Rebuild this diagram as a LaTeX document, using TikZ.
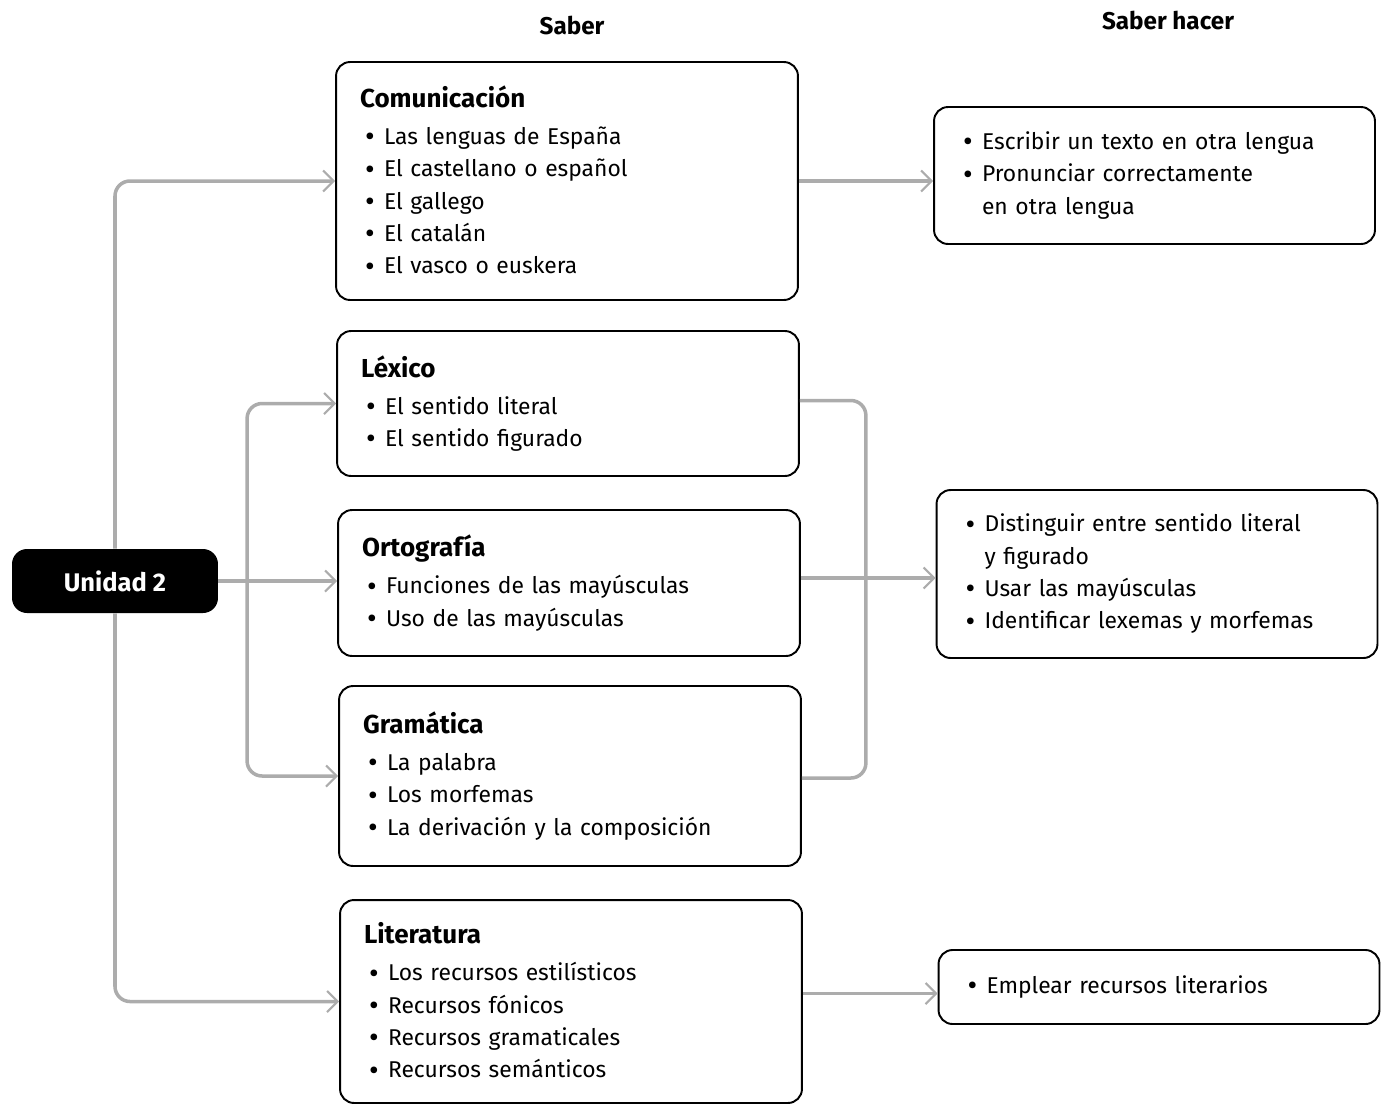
\documentclass[tikz,border=0pt]{standalone}
\usepackage{fontspec}
\setmainfont{Fira Sans}
\usetikzlibrary{arrows.meta}
\newcommand{\itm}{\hspace*{0.1cm}\makebox[0.38cm][l]{\raisebox{-0.1em}{\scalebox{1.3}{\textbullet}}}}
\newcommand{\cont}{\hspace*{0.48cm}}
\newcommand{\ttl}[1]{{\fontsize{14.8}{18.4}\selectfont\bfseries #1}}
\tikzset{
  box/.style={draw, rounded corners=0.28cm, line width=1.1pt, align=left, text width=8.28cm, inner xsep=0.48cm, inner ysep=0pt, font=\fontsize{13}{18.4}\selectfont},
  hbox/.style={box, text width=7.86cm},
  conn/.style={draw=gray!65, line width=2pt, rounded corners=0.3cm, arrows={-{Straight Barb[length=6pt,width=12pt,line width=1.2pt]}}},
  head/.style={font=\fontsize{13.8}{16}\selectfont\bfseries}
}
\begin{document}
\begin{tikzpicture}[x=0.02cm,y=-0.02cm]
\useasboundingbox (0,0) rectangle (1383,1103);
\node [head] (saber) at (572,25) {Saber};
\node [head] (hacer) at (1168,20) {Saber hacer};
\node [fill=black, text=white, rounded corners=0.3cm, minimum width=4.12cm, minimum height=1.28cm, font=\fontsize{14.5}{16}\selectfont\bfseries] (unidad) at (115,581) {Unidad 2};
\node [box, minimum height=4.76cm] (com) at (567,181) {\ttl{Comunicación}\\[2.6pt]
\itm Las lenguas de España\\
\itm El castellano o español\\
\itm El gallego\\
\itm El catalán\\
\itm El vasco o euskera};
\node [box, minimum height=2.9cm] (lex) at (568,403.5) {\ttl{Léxico}\\[2.6pt]
\itm El sentido literal\\
\itm El sentido figurado};
\node [box, minimum height=2.92cm] (orto) at (569,583) {\ttl{Ortografía}\\[2.6pt]
\itm Funciones de las mayúsculas\\
\itm Uso de las mayúsculas};
\node [box, minimum height=3.6cm] (gram) at (570,776) {\ttl{Gramática}\\[2.6pt]
\itm La palabra\\
\itm Los morfemas\\
\itm La derivación y la composición};
\node [box, minimum height=4.06cm] (lit) at (571,1001.5) {\ttl{Literatura}\\[2.6pt]
\itm Los recursos estilísticos\\
\itm Recursos fónicos\\
\itm Recursos gramaticales\\
\itm Recursos semánticos};
\node [hbox, minimum height=2.74cm] (hcom) at (1154.5,175.5) {\itm Escribir un texto en otra lengua\\
\itm Pronunciar correctamente\\
\cont en otra lengua};
\node [hbox, minimum height=3.36cm] (hlex) at (1157,574) {\itm Distinguir entre sentido literal\\
\cont y figurado\\
\itm Usar las mayúsculas\\
\itm Identificar lexemas y morfemas};
\node [hbox, minimum height=1.48cm] (hlit) at (1159,987) {\itm Emplear recursos literarios};
\draw [conn] (unidad.north) |- (com.west);
\draw [conn] (unidad.south) |- (lit.west);
\draw [conn] (unidad.east) -- (unidad.east -| orto.west);
\draw [conn, arrows={{Straight Barb[length=6pt,width=12pt,line width=1.2pt]}-{Straight Barb[length=6pt,width=12pt,line width=1.2pt]}}] (lex.west) -- ++(-89,0) |- (gram.west);
\draw [conn, arrows=-] ([yshift=0.06cm]lex.east) -- ++(66,0) |- ([yshift=-0.04cm]gram.east);
\draw [conn] ([yshift=0.1cm]orto.east) -- ([yshift=0.1cm]orto.east -| hlex.west);
\draw [conn] (com.east) -- (com.east -| hcom.west);
\draw [conn] ([yshift=0.16cm]lit.east) -- ([yshift=0.16cm]lit.east -| hlit.west);
\end{tikzpicture}
\end{document}
